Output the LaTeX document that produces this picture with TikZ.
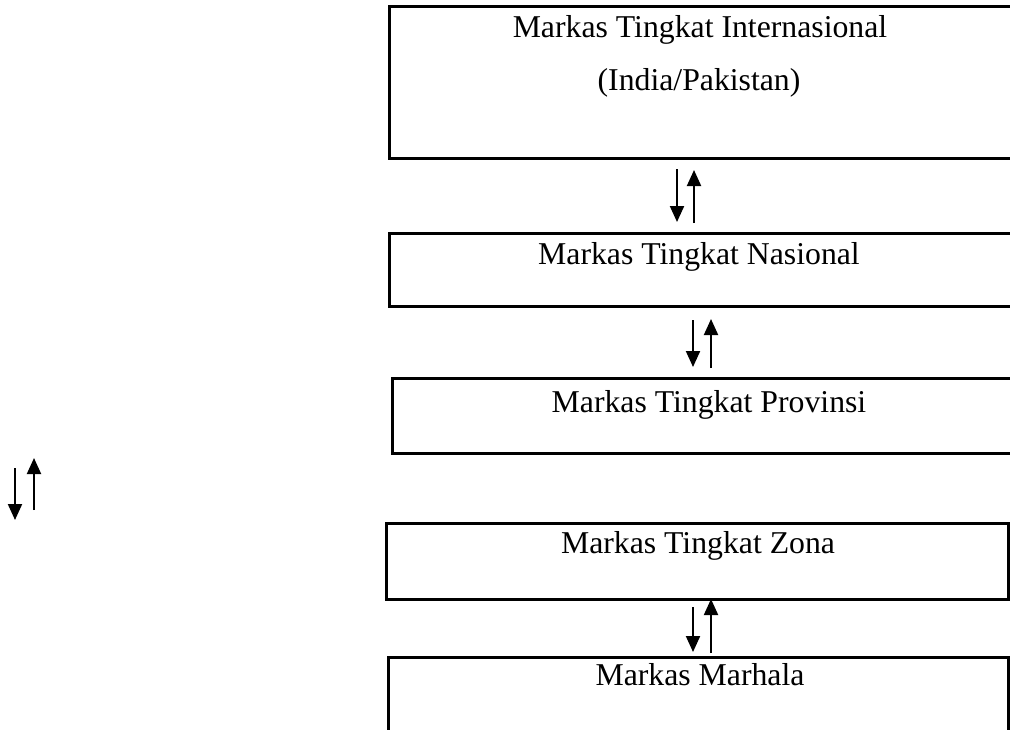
\documentclass[tikz,border=0pt]{standalone}
\usepackage{fontspec}
\setmainfont{Liberation Serif}
\usetikzlibrary{arrows.meta}
\begin{document}
\begin{tikzpicture}[x=0.4pt,y=-0.4pt,
  box/.style={draw,line width=1.2pt,rectangle,inner sep=0pt,outer sep=0pt},
  lbl/.style={anchor=base,inner sep=0pt,font=\fontsize{12.7}{15}\selectfont},
  arr/.style={line width=0.8pt,-{Triangle[length=6.4pt,width=5.6pt]}}]
\useasboundingbox (0,0) rectangle (1010,729);
\clip (0,0) rectangle (1010,729);
% boxes (the top three run past the right edge of the picture)
\node[box,minimum width=256pt,minimum height=60.8pt] (b1) at (709,82) {};
\node[box,minimum width=256pt,minimum height=29.2pt] (b2) at (709,270) {};
\node[box,minimum width=254.8pt,minimum height=30pt] (b3) at (710.5,416) {};
\node[box,minimum width=248.8pt,minimum height=30.4pt] (b4) at (697,561) {};
\node[box,minimum width=248pt,minimum height=35.2pt] (b5) at (698,701) {};
% labels
\node[lbl] (t1a) at (700,37) {Markas Tingkat Internasional};
\node[lbl] (t1b) at (699,90) {(India/Pakistan)};
\node[lbl] (t2) at (699,264) {Markas Tingkat Nasional};
\node[lbl] (t3) at (709,412) {Markas Tingkat Provinsi};
\node[lbl] (t4) at (698,553) {Markas Tingkat Zona};
\node[lbl] (t5) at (700,685) {Markas Marhala};
% arrow end points
\coordinate (a1d) at (677,169); \coordinate (a1e) at (677,222);
\coordinate (a1u) at (694,223); \coordinate (a1v) at (694,170);
\coordinate (a2d) at (693,320); \coordinate (a2e) at (693,367);
\coordinate (a2u) at (711,368); \coordinate (a2v) at (711,319);
\coordinate (a3d) at (693,607); \coordinate (a3e) at (693,652);
\coordinate (a3u) at (711,653); \coordinate (a3v) at (711,599);
\coordinate (a4d) at (15,468); \coordinate (a4e) at (15,520);
\coordinate (a4u) at (34,510); \coordinate (a4v) at (34,458);
\draw[arr] (a1d) -- (a1e);
\draw[arr] (a1u) -- (a1v);
\draw[arr] (a2d) -- (a2e);
\draw[arr] (a2u) -- (a2v);
\draw[arr] (a3d) -- (a3e);
\draw[arr] (a3u) -- (a3v);
\draw[arr] (a4d) -- (a4e);
\draw[arr] (a4u) -- (a4v);
\end{tikzpicture}
\end{document}
